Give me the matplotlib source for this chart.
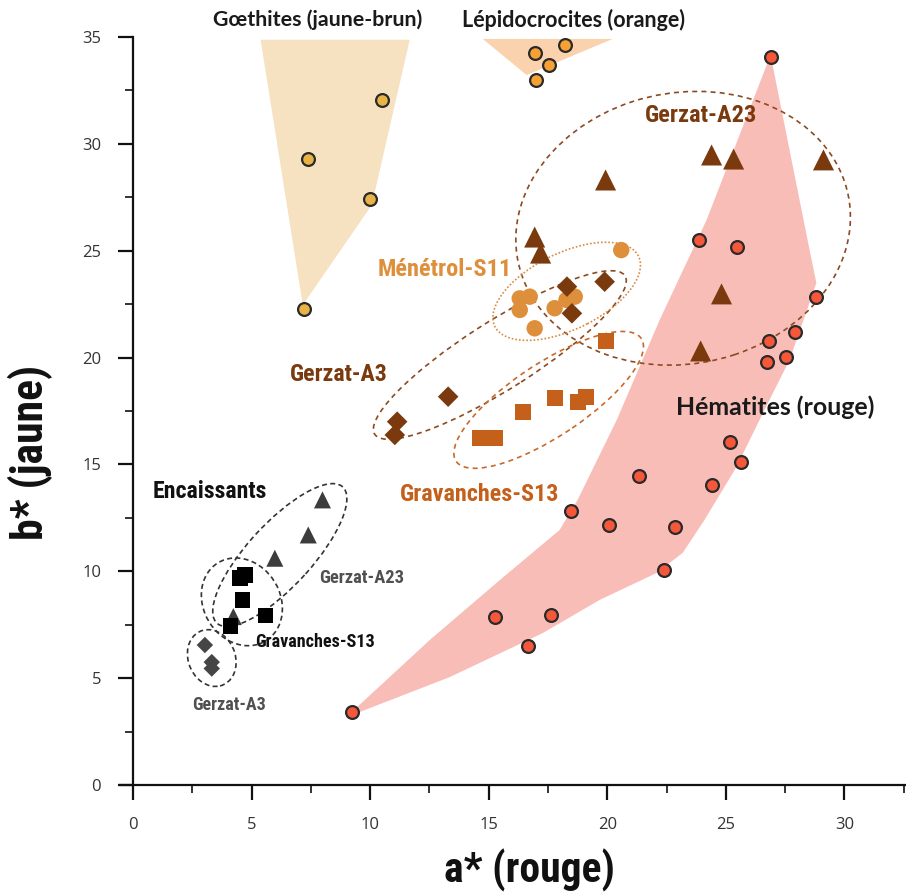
import matplotlib
matplotlib.use('Agg')
import matplotlib.pyplot as plt
from matplotlib.patches import Polygon, Ellipse
from matplotlib import font_manager as fm
from matplotlib.ticker import MultipleLocator

names = {f.name for f in fm.fontManager.ttflist}
NARROW = 'Roboto'
for cand in ['Liberation Sans Narrow', 'Arial Narrow', 'Roboto Condensed',
             'DejaVu Sans Condensed', 'Open Sans Condensed', 'Noto Sans Condensed']:
    if cand in names:
        NARROW = cand
        break
if NARROW not in names:
    NARROW = 'DejaVu Sans'
SANS = 'Open Sans' if 'Open Sans' in names else 'DejaVu Sans'
SEMI = 'Lato' if 'Lato' in names else SANS

# ---------------- data ----------------
goethite_a = [10.52, 7.39, 9.99, 7.22]
goethite_b = [32.05, 29.28, 27.42, 22.26]
goethite_zone_a = [5.38, 11.67, 10.07, 7.16]
goethite_zone_b = [34.87, 34.87, 27.14, 22.46]

lepido_a = [16.94, 18.2, 17.53, 16.98]
lepido_b = [34.25, 34.63, 33.69, 32.99]
lepido_zone_a = [14.75, 20.23, 16.6]
lepido_zone_b = [34.91, 34.91, 33.22]

hematite_a = [26.89, 23.89, 25.48, 28.82, 26.84, 27.91, 26.73, 27.52, 25.16, 25.62,
              24.4, 21.32, 18.46, 20.06, 22.84, 22.38, 15.25, 17.61, 16.65, 9.23]
hematite_b = [34.05, 25.5, 25.19, 22.85, 20.79, 21.21, 19.81, 20.03, 16.05, 15.11,
              14.04, 14.46, 12.82, 12.17, 12.07, 10.06, 7.86, 7.95, 6.5, 3.42]
hematite_zone_a = [9.23, 12.52, 15.47, 17.99, 18.75, 20.4, 22.21, 24.19, 26.89,
                   27.69, 28.45, 28.82, 27.69, 26.63, 25.45, 24.1, 23.18, 22.08,
                   19.68, 17.28, 13.36, 9.57]
hematite_zone_b = [3.42, 6.79, 9.59, 11.93, 13.34, 17.08, 21.76, 26.44, 34.16,
                   29.71, 25.5, 23.49, 19.89, 17.55, 14.88, 12.4, 10.86, 9.92,
                   8.66, 7.11, 5.05, 3.42]

gerzat_a23_a = [19.93, 24.4, 25.33, 29.12, 16.94, 17.19, 24.82, 23.94]
gerzat_a23_b = [28.31, 29.48, 29.29, 29.25, 25.64, 24.89, 22.98, 20.31]

menetrol_a = [20.59, 16.31, 16.73, 16.31, 17.78, 18.28, 18.63, 16.94]
menetrol_b = [25.03, 22.77, 22.85, 22.23, 22.31, 22.70, 22.85, 21.37]

gerzat_a3_a = [18.3, 19.89, 18.51, 13.29, 11.14, 11.04]
gerzat_a3_b = [23.32, 23.55, 22.07, 18.17, 17.0, 16.38]

gravanches_a = [19.96, 17.78, 18.75, 19.12, 16.45, 14.62, 15.25]
gravanches_b = [20.78, 18.10, 17.94, 18.17, 17.47, 16.22, 16.22]

enc_a23_a = [7.99, 7.39, 5.98, 4.23]
enc_a23_b = [13.34, 11.7, 10.61, 7.88]
enc_s13_a = [4.51, 4.72, 4.62, 5.59, 4.12]
enc_s13_b = [9.69, 9.83, 8.66, 7.92, 7.44]
enc_a3_a = [3.03, 3.32, 3.32]
enc_a3_b = [6.55, 5.75, 5.45]

x_ticks = [0, 5, 10, 15, 20, 25, 30]
y_ticks = [0, 5, 10, 15, 20, 25, 30, 35]

# ---------------- colours ----------------
BROWN = '#7A3A0E'
MENE = '#DE8F3C'
GRAV = '#C5601B'
ENC = '#3C3C3C'
EDGE = '#2A2A2A'

fig = plt.figure(figsize=(9.06, 8.94), dpi=100)
ax = fig.add_axes([120/906, 1-785/894, 1-120/906, (785-37)/894])
ax.set_xlim(-0.55, 32.6)
ax.set_ylim(0, 35)

# zones
ax.add_patch(Polygon(list(zip(goethite_zone_a, goethite_zone_b)), closed=True,
                     facecolor='#F6E1C0', edgecolor='none', zorder=1))
ax.add_patch(Polygon(list(zip(lepido_zone_a, lepido_zone_b)), closed=True,
                     facecolor='#FAD3AE', edgecolor='none', zorder=1))
ax.add_patch(Polygon(list(zip(hematite_zone_a, hematite_zone_b)), closed=True,
                     facecolor='#F9BDB8', edgecolor='none', zorder=1))

# ellipses: (center a, center b, width, height, angle, colour, dash)
ellipses = [
    (23.2, 26.05, 14.3, 12.6, 20, '#8B4A22', (0, (3, 2.5))),
    (15.47, 20.12, 12.9, 3.1, 35.4, '#8B4A22', (0, (3, 2.5))),
    (18.29, 23.1, 6.9, 3.5, 30, '#D98B3F', (0, (1, 1.2))),
    (17.53, 18.02, 9.7, 3.3, 37, '#C8692A', (0, (3, 2.5))),
    (6.19, 10.76, 8.3, 2.8, 51, '#333333', (0, (3, 2))),
    (4.59, 8.57, 3.3, 4.2, 20, '#333333', (0, (3, 2))),
    (3.32, 5.94, 2.0, 2.7, 15, '#333333', (0, (3, 2))),
]
for ca, cb, w, h, ang, col, ls in ellipses:
    ax.add_patch(Ellipse((ca, cb), w, h, angle=ang, facecolor='none', edgecolor=col,
                         linewidth=1.2, linestyle=ls, zorder=2))

# markers
ax.scatter(goethite_a, goethite_b, s=85, marker='o', facecolor='#E8B447',
           edgecolor=EDGE, linewidth=1.6, zorder=4, clip_on=False)
ax.scatter(lepido_a, lepido_b, s=85, marker='o', facecolor='#F7A035',
           edgecolor=EDGE, linewidth=1.6, zorder=4, clip_on=False)
ax.scatter(hematite_a, hematite_b, s=85, marker='o', facecolor='#F5573B',
           edgecolor=EDGE, linewidth=1.6, zorder=4, clip_on=False)
ax.scatter(gerzat_a23_a, gerzat_a23_b, s=230, marker='^', facecolor=BROWN,
           edgecolor='none', zorder=4)
ax.scatter(menetrol_a, menetrol_b, s=140, marker='o', facecolor=MENE,
           edgecolor='none', zorder=3)
ax.scatter(gerzat_a3_a, gerzat_a3_b, s=110, marker='D', facecolor=BROWN,
           edgecolor='none', zorder=4)
ax.scatter(gravanches_a, gravanches_b, s=130, marker='s', facecolor=GRAV,
           edgecolor='none', zorder=4)
ax.scatter(enc_a23_a, enc_a23_b, s=150, marker='^', facecolor=ENC,
           edgecolor='none', zorder=4)
ax.scatter(enc_s13_a, enc_s13_b, s=120, marker='s', facecolor='#000000',
           edgecolor='none', zorder=4)
ax.scatter(enc_a3_a, enc_a3_b, s=70, marker='D', facecolor='#454545',
           edgecolor='none', zorder=4)

# labels (text, target width in px)
fit = []
def lab(x, y, t, col, width, fam=NARROW, weight='bold'):
    txt = ax.text(x, y, t, color=col, fontsize=14, family=fam, weight=weight,
                  ha='center', va='center', zorder=6, clip_on=False)
    fit.append((txt, width, 'w'))

lab(7.8, 35.82, 'Gœthites (jaune-brun)', '#1A1A1A', 211, [SEMI, SANS], 'bold')
lab(18.58, 35.82, 'Lépidocrocites (orange)', '#1A1A1A', 225, [SEMI, SANS], 'bold')
lab(23.94, 31.35, 'Gerzat-A23', BROWN, 112)
lab(13.15, 24.1, 'Ménétrol-S11', MENE, 135)
lab(8.68, 19.19, 'Gerzat-A3', BROWN, 98)
lab(27.1, 17.69, 'Hématites (rouge)', '#1A1A1A', 200, [SEMI, SANS], 'bold')
lab(14.62, 13.57, 'Gravanches-S13', GRAV, 160)
lab(3.24, 13.71, 'Encaissants', '#111111', 115)
lab(9.65, 9.69, 'Gerzat-A23', '#505050', 85)
lab(7.67, 6.69, 'Gravanches-S13', '#111111', 120)
lab(4.05, 3.74, 'Gerzat-A3', '#505050', 74)

xl = fig.text(529/906, 1-870/894, 'a* (rouge)', fontsize=22, family=NARROW,
              weight='bold', color='#111111', ha='center', va='center')
fit.append((xl, 170, 'w'))
yl = fig.text(30/906, 1-452/894, 'b* (jaune)', fontsize=22, family=NARROW,
              weight='bold', color='#111111', ha='center', va='center', rotation=90)
fit.append((yl, 175, 'h'))

# axes styling
ax.spines['left'].set_position(('data', 0))
ax.spines['top'].set_visible(False)
ax.spines['right'].set_visible(False)
for s in ('left', 'bottom'):
    ax.spines[s].set_linewidth(1.6)
    ax.spines[s].set_color('#111111')
ax.set_xticks(x_ticks)
ax.set_yticks(y_ticks)
ax.xaxis.set_minor_locator(MultipleLocator(2.5))
ax.yaxis.set_minor_locator(MultipleLocator(2.5))
ax.tick_params(which='major', direction='out', length=11, width=1.6, color='#111111',
               labelsize=12, labelcolor='#333333', pad=12)
ax.tick_params(which='minor', direction='out', length=6, width=1.2, color='#111111')
for t in ax.get_xticklabels() + ax.get_yticklabels():
    t.set_family(SANS)

# fit label sizes to the measured widths of the reference
fig.canvas.draw()
r = fig.canvas.get_renderer()
for txt, target, dim in fit:
    bb = txt.get_window_extent(r)
    cur = bb.width if dim == 'w' else bb.height
    txt.set_fontsize(txt.get_fontsize() * target / cur)

fig.savefig('out.png', dpi=100)
